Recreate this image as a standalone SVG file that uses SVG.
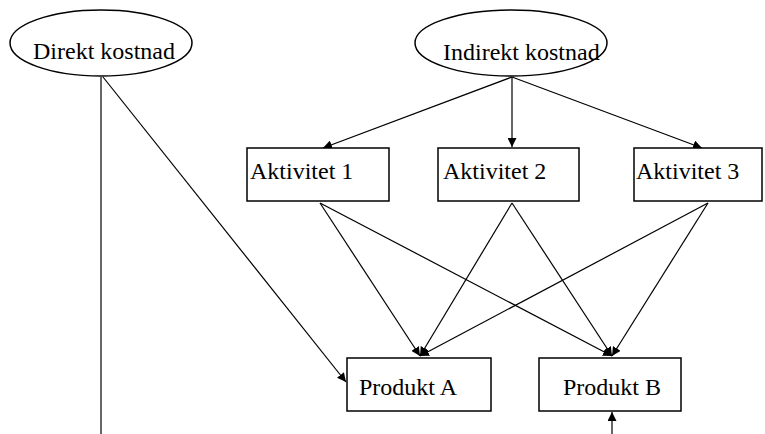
<svg xmlns="http://www.w3.org/2000/svg" width="765" height="434" viewBox="0 0 765 434">
<style>
.shape{fill:#fff;stroke:#000;stroke-width:1.5}
.lbl{font-family:"Liberation Serif","Times New Roman",serif;font-size:24px;fill:#000}
.conn{stroke:#000;stroke-width:1.2;fill:none}
</style>
<defs>
<marker id="arr" viewBox="0 0 10 10" refX="10" refY="5" markerWidth="9" markerHeight="9" markerUnits="userSpaceOnUse" orient="auto">
<path d="M0,0 L10,5 L0,10 z" fill="#000"/>
</marker>
</defs>
<rect width="765" height="434" fill="#fff"/>
<g id="connectors">
<line class="conn" x1="101" y1="77" x2="101" y2="434"/>
<line class="conn" x1="103" y1="77" x2="346" y2="382" marker-end="url(#arr)"/>
<line class="conn" x1="512" y1="77" x2="323" y2="148" marker-end="url(#arr)"/>
<line class="conn" x1="512" y1="77" x2="512" y2="147" marker-end="url(#arr)"/>
<line class="conn" x1="512" y1="77" x2="702" y2="148" marker-end="url(#arr)"/>
<line class="conn" x1="320" y1="203" x2="420" y2="356" marker-end="url(#arr)"/>
<line class="conn" x1="320" y1="203" x2="612" y2="356" marker-end="url(#arr)"/>
<line class="conn" x1="512" y1="203" x2="420" y2="356" marker-end="url(#arr)"/>
<line class="conn" x1="512" y1="203" x2="612" y2="356" marker-end="url(#arr)"/>
<line class="conn" x1="708" y1="203" x2="420" y2="356" marker-end="url(#arr)"/>
<line class="conn" x1="708" y1="203" x2="612" y2="356" marker-end="url(#arr)"/>
<line class="conn" x1="612" y1="434" x2="612" y2="412" marker-end="url(#arr)"/>
</g>
<g id="direkt">
<ellipse class="shape" cx="101" cy="43" rx="91" ry="33"/>
<text class="lbl" x="33" y="59">Direkt kostnad</text>
</g>
<g id="indirekt">
<ellipse class="shape" cx="511" cy="43" rx="96" ry="33"/>
<text class="lbl" x="443" y="60">Indirekt kostnad</text>
</g>
<g id="akt1">
<rect class="shape" x="247" y="148" width="142" height="53"/>
<text class="lbl" x="250" y="179">Aktivitet 1</text>
</g>
<g id="akt2">
<rect class="shape" x="438" y="148" width="141" height="53"/>
<text class="lbl" x="443" y="179">Aktivitet 2</text>
</g>
<g id="akt3">
<rect class="shape" x="634" y="148" width="128" height="53"/>
<text class="lbl" x="636" y="179">Aktivitet 3</text>
</g>
<g id="produktA">
<rect class="shape" x="347" y="358" width="144" height="53"/>
<text class="lbl" x="359" y="395">Produkt A</text>
</g>
<g id="produktB">
<rect class="shape" x="539" y="358" width="142" height="53"/>
<text class="lbl" x="563" y="395">Produkt B</text>
</g>
</svg>
